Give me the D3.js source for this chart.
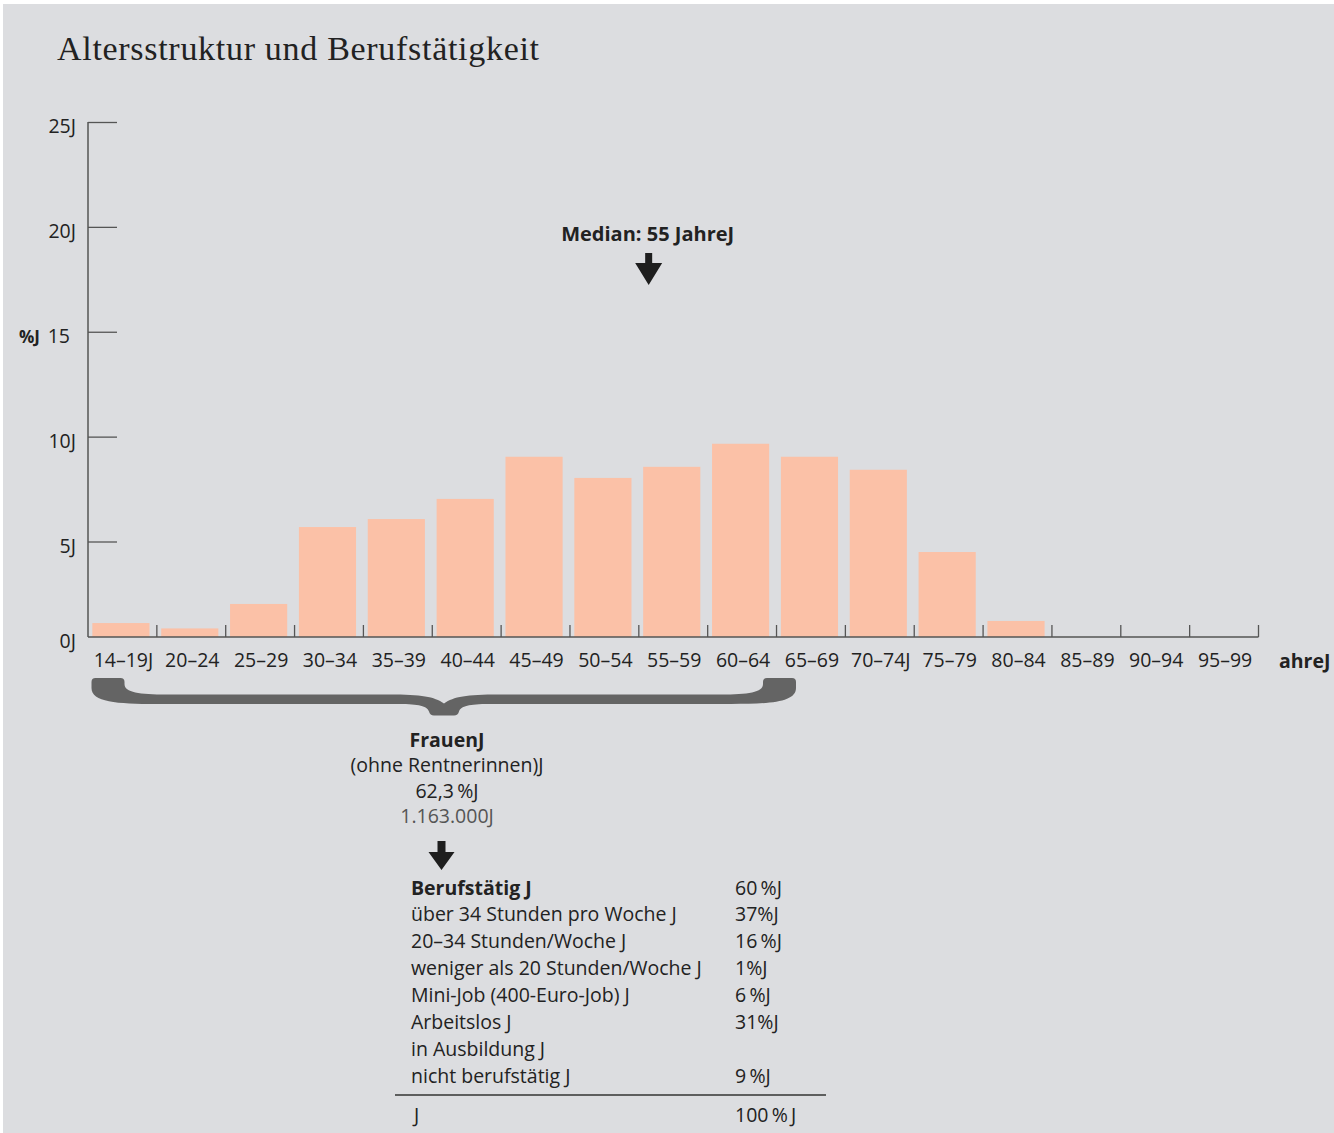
<!DOCTYPE html>
<html><head><meta charset="utf-8">
<script src="https://cdn.jsdelivr.net/npm/d3@7"></script>
<style>
html,body{margin:0;padding:0;background:#fff;}
svg{display:block;}
text{font-family:"Open Sans","Noto Sans",sans-serif;fill:#222;}
</style></head>
<body>
<svg id="chart" width="1334" height="1133"></svg>
<script>
// ---- data ----
const categories = ["14–19J","20–24","25–29","30–34","35–39","40–44","45–49","50–54","55–59","60–64","65–69","70–74J","75–79","80–84","85–89","90–94","95–99"];
const values = [0.73,0.45,1.73,5.69,6.07,7.03,9.04,8.03,8.56,9.66,9.04,8.42,4.45,0.84,0,0,0];
const yTickValues = [0,5,10,15,20,25];
const yTickLabels = ["0J","5J","10J","15","20J","25J"];
const titleText = "Altersstruktur und Berufstätigkeit";
const medianText = "Median: 55 JahreJ";
const medianCategory = "55–59";
const braceLines = ["FrauenJ","(ohne Rentnerinnen)J","62,3\u2009%J","1.163.000J"];
const tableLabels = ["Berufstätig J","über 34 Stunden pro Woche J","20–34 Stunden/Woche J","weniger als 20 Stunden/Woche J","Mini-Job (400-Euro-Job) J","Arbeitslos J","in Ausbildung J","nicht berufstätig J"];
const tableValues = ["60\u2009%J","37%J","16\u2009%J","1%J","6\u2009%J","31%J","","9\u2009%J"];
const totalLabel = "J";
const totalValue = "100\u2009%\u2009J";

// ---- layout ----
const FS = "19.5px";
const svg = d3.select("#chart");
svg.append("rect").attr("x",3).attr("y",4).attr("width",1331).attr("height",1129).attr("fill","#dcdde0");

svg.append("text").attr("x",57).attr("y",60)
  .style("font-family","'Liberation Serif','DejaVu Serif',serif").style("font-size","34px")
  .style("letter-spacing","0.7px")
  .text(titleText);

const x = d3.scaleBand().domain(categories).range([88,1258.5]).paddingInner(0.17).paddingOuter(0.085);
const y = d3.scaleLinear().domain([0,5,25]).range([637,541.5,122]);
const axisColor = "#555";

// bars
svg.append("g").selectAll("rect").data(categories).join("rect")
  .attr("x",d=>x(d)-1.5).attr("width",x.bandwidth())
  .attr("y",(d,i)=>y(values[i])).attr("height",(d,i)=>y(0)-y(values[i]))
  .attr("fill","#fbc1a7");

// y axis
const yAxis = d3.axisRight(y).tickValues(yTickValues.slice(1)).tickSize(29).tickFormat("");
const gy = svg.append("g").attr("transform","translate(88,0)").call(yAxis);
gy.select(".domain").remove();
gy.selectAll(".tick line").attr("stroke",axisColor).attr("stroke-width",1.3);
svg.append("line").attr("x1",88).attr("x2",88).attr("y1",y(25)).attr("y2",y(0)).attr("stroke",axisColor).attr("stroke-width",1.5);
svg.append("g").selectAll("text").data(yTickValues).join("text")
  .attr("x",(d,i)=>yTickLabels[i]==="15"?70:76).attr("y",d=>y(d)+11)
  .attr("text-anchor","end").style("font-size",FS)
  .text((d,i)=>yTickLabels[i]);
svg.append("text").attr("x",19).attr("y",y(15)+11).style("font-size","17px").style("font-weight","bold").text("%J");

// x axis
const step = x.step();
const bounds = categories.map(c=>x(c)-x.paddingInner()*step/2).slice(1).concat([x.range()[1]]);
svg.append("line").attr("x1",88).attr("x2",x.range()[1]).attr("y1",y(0)).attr("y2",y(0)).attr("stroke",axisColor).attr("stroke-width",1.5);
svg.append("g").selectAll("line").data(bounds).join("line")
  .attr("x1",d=>d).attr("x2",d=>d).attr("y1",y(0)-12).attr("y2",y(0))
  .attr("stroke",axisColor).attr("stroke-width",1.3);
svg.append("g").selectAll("text").data(categories).join("text")
  .attr("x",d=>x(d)+x.bandwidth()/2+1).attr("y",y(0)+30)
  .attr("text-anchor","middle").style("font-size",FS).text(d=>d);
svg.append("text").attr("x",1279).attr("y",y(0)+31).style("font-size",FS).style("font-weight","bold").text("ahreJ");

// median
const mx = x(medianCategory)+4;
svg.append("text").attr("x",mx-1).attr("y",241).attr("text-anchor","middle")
  .style("font-size","20px").style("font-weight","bold").text(medianText);
function arrow(cx, top, stemW, headTop, headW, tip){
  const p = d3.path();
  p.moveTo(cx-stemW/2, top); p.lineTo(cx+stemW/2, top); p.lineTo(cx+stemW/2, headTop);
  p.lineTo(cx+headW/2, headTop); p.lineTo(cx, tip); p.lineTo(cx-headW/2, headTop);
  p.lineTo(cx-stemW/2, headTop); p.closePath();
  svg.append("path").attr("d",p.toString()).attr("fill","#1e1e1e");
}
arrow(mx, 253, 7, 263, 27, 285);

// brace
(function(){
  const x0=91.5, x1=796, xm=444, top=678, bt=694.5, bb=704, tb=715.5;
  const d = `M${x0},${top+4} Q${x0},${top} ${x0+4},${top} L${x0+29},${top} Q${x0+33},${top} ${x0+33},${top+4} L${x0+33},${top+6}
  C${x0+33},${bt-2} ${x0+48},${bt} ${x0+75},${bt} L${xm-55},${bt} C${xm-22},${bt} ${xm-10},${bt+2} ${xm},${bb-0.5}
  C${xm+10},${bt+2} ${xm+22},${bt} ${xm+55},${bt} L${x1-75},${bt} C${x1-48},${bt} ${x1-33},${bt-2} ${x1-33},${top+6}
  L${x1-33},${top+4} Q${x1-33},${top} ${x1-29},${top} L${x1-4},${top} Q${x1},${top} ${x1},${top+4} L${x1},${top+10}
  C${x1},${bb-2} ${x1-25},${bb} ${x1-65},${bb} L${xm+45},${bb} C${xm+25},${bb} ${xm+17},${bb+2} ${xm+15},${tb-4}
  Q${xm+14},${tb} ${xm+10},${tb} L${xm-10},${tb} Q${xm-14},${tb} ${xm-15},${tb-4}
  C${xm-17},${bb+2} ${xm-25},${bb} ${xm-45},${bb} L${x0+65},${bb} C${x0+25},${bb} ${x0},${bb-2} ${x0},${top+10} Z`;
  svg.append("path").attr("d",d).attr("fill","#646464");
})();

// brace text
const braceColors = ["#222","#222","#222","#555"];
svg.append("g").selectAll("text").data(braceLines).join("text")
  .attr("x",447).attr("y",(d,i)=>747+i*25.3).attr("text-anchor","middle")
  .style("font-size",FS).style("font-weight",(d,i)=>i===0?"bold":"normal")
  .style("fill",(d,i)=>braceColors[i]).text(d=>d);

arrow(441.5, 841, 8, 852, 26, 870);

// table
const rowY = d3.scaleLinear().domain([0,1]).range([894.5,921.4]);
svg.append("g").selectAll("text").data(tableLabels).join("text")
  .attr("x",411).attr("y",(d,i)=>rowY(i)).style("font-size",FS)
  .style("font-weight",(d,i)=>i===0?"bold":"normal").text(d=>d);
svg.append("g").selectAll("text").data(tableValues).join("text")
  .attr("x",735).attr("y",(d,i)=>rowY(i)).style("font-size",FS).text(d=>d);
svg.append("line").attr("x1",395).attr("x2",826).attr("y1",1095).attr("y2",1095).attr("stroke","#333").attr("stroke-width",1.3);
svg.append("text").attr("x",414).attr("y",1122).style("font-size",FS).text(totalLabel);
svg.append("text").attr("x",735).attr("y",1122).style("font-size",FS).text(totalValue);
</script>
</body></html>
